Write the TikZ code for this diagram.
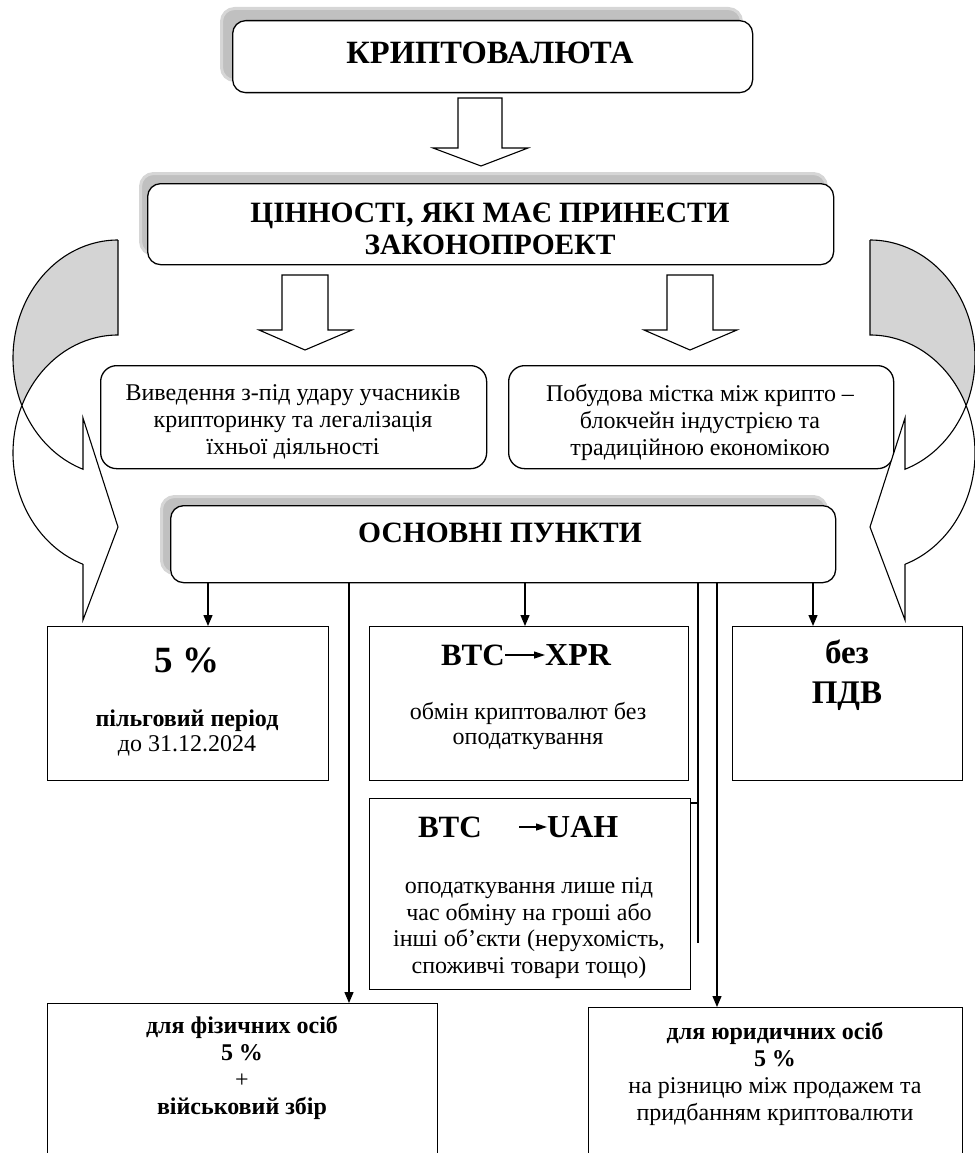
\documentclass[tikz,border=0pt]{standalone}
\usepackage{fontspec}
\setmainfont{Liberation Serif}
\usetikzlibrary{arrows.meta,calc}
\definecolor{shadowgray}{RGB}{192,192,192}
\definecolor{shadowedge}{RGB}{214,214,214}
\definecolor{backgray}{RGB}{212,212,212}
\tikzset{
  lw/.style={line width=1.3pt},
  rbox/.style={draw, lw, rounded corners=13pt, fill=white, inner sep=0pt, anchor=north west},
  sbox/.style={draw, lw, fill=white, inner sep=0pt, anchor=north west},
  shad/.style={fill=shadowgray, draw=shadowedge, line width=3pt, rounded corners=13pt, inner sep=0pt, anchor=north west},
  hollow/.style={draw, line width=1.1pt, fill=white, line join=miter},
  conn/.style={line width=1.3pt},
  arr/.style={conn, -{Triangle[width=9pt,length=11pt]}},
  curved/.style={draw, line width=1.1pt, line join=miter},
  txt/.style={inner sep=0pt, align=center},
  bigb/.style={txt, font=\fontsize{30}{34}\selectfont\bfseries},
  body/.style={txt, font=\fontsize{24}{25}\selectfont},
  tinyarr/.style={line width=1.2pt, -{Triangle[width=7pt,length=11pt]}},
}
\begin{document}
\begin{tikzpicture}[x=1pt,y=-1pt]
\useasboundingbox (0,0) rectangle (974,1153);

% ---------- top box ----------
\node[shad, minimum width=520pt, minimum height=72pt] (topsh) at (220,7) {};
\node[rbox, minimum width=520pt, minimum height=72pt] (top) at (232,20) {};
\node[bigb, font=\fontsize{32.5}{34}\selectfont\bfseries] (toptxt) at (490,53) {КРИПТОВАЛЮТА};

% ---------- hollow arrow 1 ----------
\draw[hollow] (458,98) -- (502,98) -- (502,148) -- (528,148) -- (481,166) -- (433,148) -- (458,148) -- cycle;

% ---------- values box ----------
\node[shad, minimum width=686pt, minimum height=81pt] (valsh) at (139,172) {};
\node[rbox, minimum width=686pt, minimum height=81pt] (val) at (147,183) {};
\node[bigb, font=\fontsize{29.5}{32}\selectfont\bfseries] (valtxt) at (490,229) {ЦІННОСТІ, ЯКІ МАЄ ПРИНЕСТИ\\ЗАКОНОПРОЕКТ};

% ---------- hollow arrows 2,3 ----------
\draw[hollow] (282,275) -- (328,275) -- (328,330) -- (352,330) -- (305,350) -- (259,330) -- (282,330) -- cycle;
\draw[hollow] (667,275) -- (713,275) -- (713,330) -- (737,330) -- (690,350) -- (644,330) -- (667,330) -- cycle;

% ---------- rounded boxes ----------
\node[rbox, rounded corners=16pt, minimum width=386pt, minimum height=103pt] (lbox) at (100,365) {};
\node[body, font=\fontsize{24}{27}\selectfont] (ltxt) at (293,422) {Виведення з-під удару учасників\\крипторинку та легалізація\\їхньої діяльності};
\node[rbox, rounded corners=16pt, minimum width=385pt, minimum height=103pt] (rbx) at (508,365) {};
\node[body, font=\fontsize{24}{27}\selectfont] (rtxt) at (700,422) {Побудова містка між крипто –\\блокчейн індустрією та\\традиційною економікою};

% ---------- curved arrows ----------
% left
\fill[backgray] plot[domain=90:203.7, samples=70] ({118+105*cos(\x)},{358-118*sin(\x)})
  -- plot[domain=156.3:90, samples=70] ({118+105*cos(\x)},{453-118*sin(\x)}) -- cycle;
\draw[curved] plot[domain=90:203.7, samples=70] ({118+105*cos(\x)},{358-118*sin(\x)});
\draw[curved] plot[domain=156.3:90, samples=70] ({118+105*cos(\x)},{453-118*sin(\x)}) -- (118,240);
\draw[curved, fill=white] plot[domain=203.7:250.53, samples=30] ({118+105*cos(\x)},{358-118*sin(\x)})
  -- (83,418) -- (118,527) -- (83,620) -- (83,564.2)
  -- plot[domain=250.53:156.3, samples=70] ({118+105*cos(\x)},{453-118*sin(\x)});
% right
\fill[backgray] plot[domain=90:203.7, samples=70] ({870-105*cos(\x)},{358-118*sin(\x)})
  -- plot[domain=156.3:90, samples=70] ({870-105*cos(\x)},{453-118*sin(\x)}) -- cycle;
\draw[curved] plot[domain=90:203.7, samples=70] ({870-105*cos(\x)},{358-118*sin(\x)});
\draw[curved] plot[domain=156.3:90, samples=70] ({870-105*cos(\x)},{453-118*sin(\x)}) -- (870,240);
\draw[curved, fill=white] plot[domain=203.7:250.53, samples=30] ({870-105*cos(\x)},{358-118*sin(\x)})
  -- (905,418) -- (870,527) -- (905,620) -- (905,564.2)
  -- plot[domain=250.53:156.3, samples=70] ({870-105*cos(\x)},{453-118*sin(\x)});

% ---------- main points box ----------
\node[shad, minimum width=665pt, minimum height=77pt] (osnsh) at (160,495) {};
\node[rbox, minimum width=665pt, minimum height=77pt] (osn) at (170,505) {};
\node[bigb, font=\fontsize{29.5}{32}\selectfont\bfseries] (osntxt) at (500,533) {ОСНОВНІ ПУНКТИ};

% ---------- row of boxes ----------
\node[sbox, minimum width=281pt, minimum height=154pt] (p5) at (47,626) {};
\node[txt, font=\fontsize{37}{38}\selectfont\bfseries] (p5a) at (187,660) {5 \%};
\node[body, font=\fontsize{24}{25}\selectfont] (p5b) at (187,733) {\textbf{пільговий період}\\до 31.12.2024};

\node[sbox, minimum width=319pt, minimum height=154pt] (xpr) at (369,626) {};
\node[txt, font=\fontsize{31}{34}\selectfont\bfseries, anchor=east] (btc1) at (505,655) {BTC};
\node[txt, font=\fontsize{32}{34}\selectfont\bfseries, anchor=west] (xpr1) at (545,655) {XPR};
\draw[tinyarr] (btc1.east) -- (xpr1.west);
\node[body, font=\fontsize{24}{24.5}\selectfont] (xprtxt) at (528,726) {обмін криптовалют без\\оподаткування};

\node[sbox, minimum width=230pt, minimum height=154pt] (pdv) at (732,626) {};
\node[txt, font=\fontsize{33}{40}\selectfont\bfseries] (pdvtxt) at (847,675) {без\\ПДВ};

\node[sbox, minimum width=321pt, minimum height=191pt] (uah) at (369,798) {};
\node[txt, font=\fontsize{31}{34}\selectfont\bfseries, anchor=east] (btc2) at (482,827) {BTC};
\node[txt, font=\fontsize{32}{34}\selectfont\bfseries, anchor=west] (uah1) at (547,827) {UAH};
\draw[tinyarr, shorten <=37pt] (btc2.east) -- (uah1.west);
\node[body, font=\fontsize{24}{26.7}\selectfont] (uahtxt) at (529,928) {оподаткування лише під\\час обміну на гроші або\\інші об’єкти (нерухомість,\\споживчі товари тощо)};

% ---------- bottom boxes ----------
\node[sbox, minimum width=390pt, minimum height=200pt] (fiz) at (47,1003) {};
\node[body, font=\fontsize{24}{27}\selectfont] (fiztxt) at (242,1068) {\textbf{для фізичних осіб}\\\textbf{5 \%}\\+\\\textbf{військовий збір}};
\node[sbox, minimum width=374pt, minimum height=200pt] (yur) at (588,1007) {};
\node[body, font=\fontsize{24}{27}\selectfont] (yurtxt) at (775,1074) {\textbf{для юридичних осіб}\\\textbf{5 \%}\\на різницю між продажем та\\придбанням криптовалюти};

% ---------- connectors ----------
\coordinate (j1) at (698,803);
\coordinate (e1) at (698,943);
\draw[arr] (osn.south -| 208,0) -- (p5.north -| 208,0);
\draw[arr] (osn.south -| 525,0) -- (xpr.north -| 525,0);
\draw[arr] (osn.south -| 813,0) -- (pdv.north -| 813,0);
\draw[arr] (osn.south -| 349,0) -- (fiz.north -| 349,0);
\draw[arr] (osn.south -| 717,0) -- (yur.north -| 717,0);
\draw[conn] (osn.south -| j1) -- (e1);
\draw[conn] (uah.east |- j1) -- (j1);
\end{tikzpicture}
\end{document}
